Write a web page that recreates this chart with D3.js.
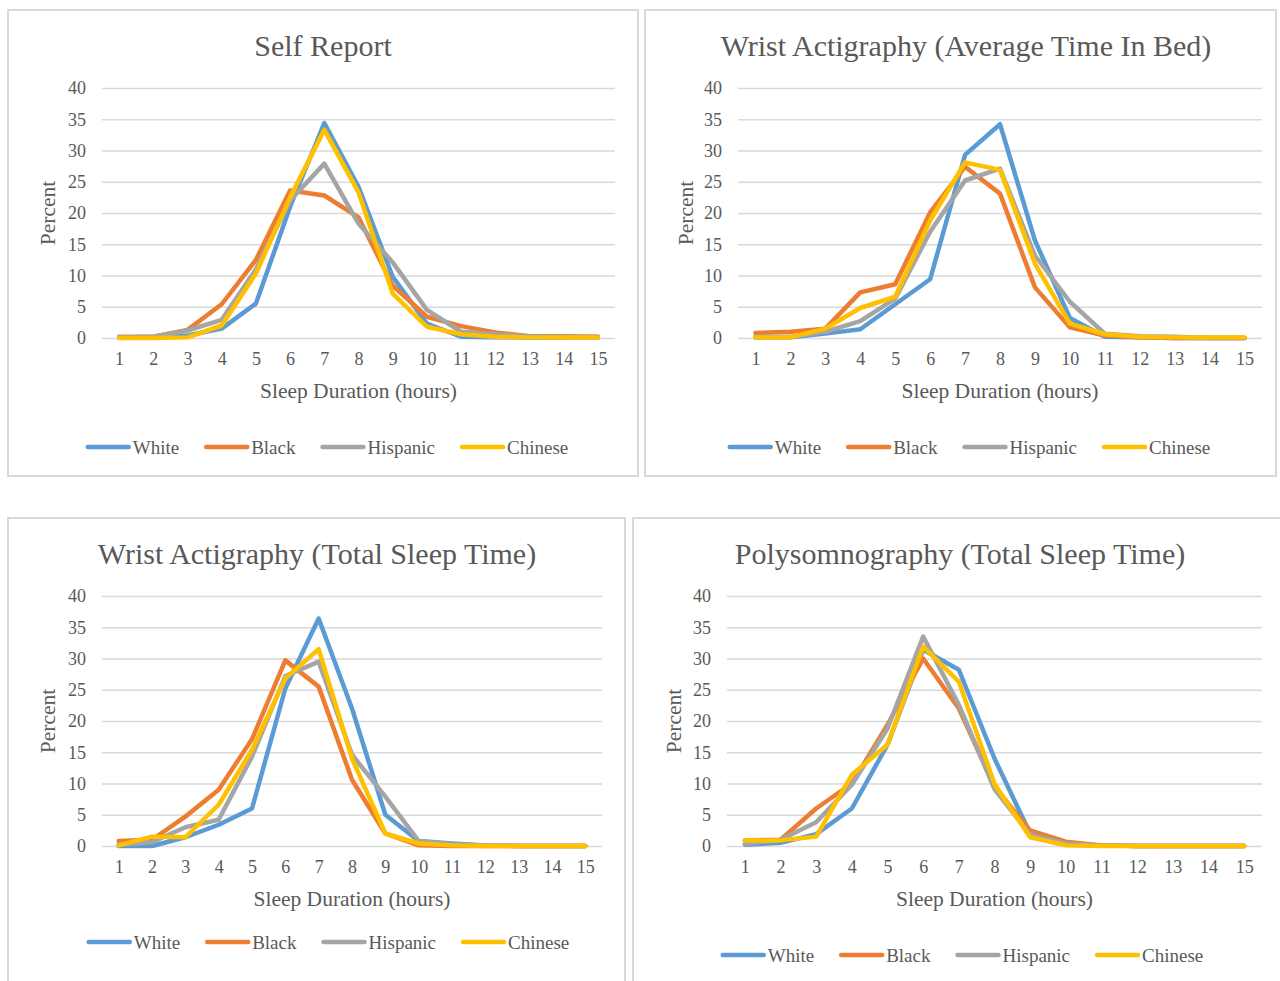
<!DOCTYPE html>
<html>
<head>
<meta charset="utf-8">
<script src="https://cdn.jsdelivr.net/npm/d3@7"></script>
<style>
  html, body { margin: 0; padding: 0; background: #ffffff; }
  svg { display: block; }
  text { font-family: "Liberation Serif", "Times New Roman", serif; fill: #595959; }
</style>
</head>
<body>
<svg id="chart" width="1280" height="981"></svg>
<script>
// ---------- data ----------
const hours = ["1","2","3","4","5","6","7","8","9","10","11","12","13","14","15"];
const yTicks = [0, 5, 10, 15, 20, 25, 30, 35, 40];
const seriesNames = ["White", "Black", "Hispanic", "Chinese"];
const seriesColors = ["#5B9BD5", "#ED7D31", "#A5A5A5", "#FFC000"];
const chartTitles = [
  "Self Report",
  "Wrist Actigraphy (Average Time In Bed)",
  "Wrist Actigraphy (Total Sleep Time)",
  "Polysomnography (Total Sleep Time)"
];
const xAxisTitle = "Sleep Duration (hours)";
const yAxisTitle = "Percent";

// Self Report
const selfWhite    = [0.1, 0.1, 0.4, 1.5, 5.5, 21.0, 34.4, 24.2, 9.8, 2.3, 0.2, 0.1, 0.1, 0.1, 0.1];
const selfBlack    = [0.2, 0.2, 1.3, 5.4, 12.5, 23.6, 22.8, 19.3, 8.4, 3.4, 1.9, 0.9, 0.3, 0.3, 0.2];
const selfHispanic = [0.1, 0.2, 1.2, 2.9, 11.0, 22.0, 27.9, 18.3, 12.1, 4.5, 1.0, 0.6, 0.3, 0.2, 0.2];
const selfChinese  = [0.0, 0.0, 0.1, 2.0, 10.3, 22.5, 33.3, 23.3, 7.1, 1.8, 0.6, 0.2, 0.1, 0.1, 0.1];

// Wrist Actigraphy (Average Time In Bed)
const tibWhite    = [0.1, 0.1, 0.7, 1.4, 5.4, 9.4, 29.3, 34.2, 15.6, 3.2, 0.2, 0.1, 0.0, 0.0, 0.0];
const tibBlack    = [0.8, 1.0, 1.5, 7.3, 8.6, 20.1, 27.4, 23.1, 8.1, 1.7, 0.4, 0.1, 0.0, 0.0, 0.0];
const tibHispanic = [0.2, 0.2, 1.0, 2.7, 6.3, 17.0, 25.2, 27.1, 13.2, 5.8, 0.7, 0.3, 0.2, 0.0, 0.0];
const tibChinese  = [0.1, 0.1, 1.5, 4.8, 6.6, 18.8, 28.1, 26.9, 11.9, 2.3, 0.6, 0.2, 0.1, 0.1, 0.1];

// Wrist Actigraphy (Total Sleep Time)
const wtsWhite    = [0.0, 0.0, 1.4, 3.4, 6.0, 25.2, 36.4, 22.0, 5.0, 0.8, 0.4, 0.1, 0.0, 0.0, 0.0];
const wtsBlack    = [0.8, 1.0, 4.7, 9.0, 17.1, 29.7, 25.5, 10.6, 2.0, 0.1, 0.0, 0.0, 0.0, 0.0, 0.0];
const wtsHispanic = [0.2, 0.6, 3.0, 4.2, 14.3, 27.2, 29.5, 14.6, 7.9, 0.8, 0.3, 0.1, 0.0, 0.0, 0.0];
const wtsChinese  = [0.1, 1.5, 1.4, 6.6, 15.4, 26.8, 31.5, 14.0, 2.0, 0.4, 0.1, 0.0, 0.0, 0.0, 0.0];

// Polysomnography (Total Sleep Time)
const psgWhite    = [0.2, 0.5, 1.9, 6.0, 16.2, 31.4, 28.2, 14.0, 2.0, 0.4, 0.1, 0.0, 0.0, 0.0, 0.0];
const psgBlack    = [0.9, 1.0, 6.0, 10.0, 19.4, 30.0, 22.0, 9.5, 2.5, 0.7, 0.1, 0.0, 0.0, 0.0, 0.0];
const psgHispanic = [0.3, 1.0, 3.8, 9.8, 18.8, 33.5, 22.6, 9.1, 1.8, 0.4, 0.1, 0.0, 0.0, 0.0, 0.0];
const psgChinese  = [0.9, 0.9, 1.5, 11.4, 16.2, 31.9, 26.3, 9.9, 1.4, 0.1, 0.0, 0.0, 0.0, 0.0, 0.0];

const panelSeries = [
  [selfWhite, selfBlack, selfHispanic, selfChinese],
  [tibWhite, tibBlack, tibHispanic, tibChinese],
  [wtsWhite, wtsBlack, wtsHispanic, wtsChinese],
  [psgWhite, psgBlack, psgHispanic, psgChinese]
];

// ---------- layout ----------
const FONT = '"Liberation Serif", "Times New Roman", serif';
const layouts = [
  { box: [8, 10, 630, 466],  plot: [102, 615, 88, 338],  titleX: 323, titleY: 56,  percentX: 48,  xTitleY: 398, legendX: 327, legendY: 447 },
  { box: [645, 10, 631, 466], plot: [738, 1262, 88, 338], titleX: 966, titleY: 56,  percentX: 686, xTitleY: 398, legendX: 969, legendY: 447 },
  { box: [8, 518, 617, 480], plot: [102, 602, 596, 846], titleX: 317, titleY: 564, percentX: 48,  xTitleY: 906, legendX: 328, legendY: 942 },
  { box: [633, 518, 660, 480], plot: [727, 1262, 596, 846], titleX: 960, titleY: 564, percentX: 674, xTitleY: 906, legendX: 962, legendY: 955 }
];

const svg = d3.select("#chart");

layouts.forEach((L, pi) => {
  const g = svg.append("g");
  // panel frame
  g.append("rect")
    .attr("x", L.box[0]).attr("y", L.box[1])
    .attr("width", L.box[2]).attr("height", L.box[3])
    .attr("fill", "#ffffff").attr("stroke", "#d9d9d9").attr("stroke-width", 2);

  const [x0, x1, y0, y1] = L.plot;
  const x = d3.scalePoint().domain(hours).range([x0, x1]).padding(0.5);
  const y = d3.scaleLinear().domain([0, 40]).range([y1, y0]);

  // gridlines + y labels
  const yAxis = g.append("g")
    .attr("transform", `translate(${x0},0)`)
    .call(d3.axisLeft(y).tickValues(yTicks).tickSize(-(x1 - x0)).tickPadding(16));
  yAxis.attr("font-family", FONT).attr("font-size", 18);
  yAxis.select(".domain").remove();
  yAxis.selectAll(".tick line").attr("stroke", "#d9d9d9").attr("stroke-width", 1.5);
  yAxis.selectAll(".tick text")
    .attr("fill", "#595959").style("font-size", "18px")
    .style("font-family", FONT);

  // x labels
  const xAxis = g.append("g")
    .attr("transform", `translate(0,${y1})`)
    .call(d3.axisBottom(x).tickSize(0).tickPadding(14));
  xAxis.attr("font-family", FONT).attr("font-size", 18);
  xAxis.select(".domain").remove();
  xAxis.selectAll(".tick text")
    .attr("fill", "#595959").style("font-size", "18px")
    .style("font-family", FONT);

  // lines
  const line = d3.line().x((d, i) => x(hours[i])).y(d => y(d));
  panelSeries[pi].forEach((vals, si) => {
    g.append("path")
      .datum(vals)
      .attr("d", line)
      .attr("fill", "none")
      .attr("stroke", seriesColors[si])
      .attr("stroke-width", 4.5)
      .attr("stroke-linejoin", "round")
      .attr("stroke-linecap", "round");
  });

  // title
  g.append("text")
    .attr("x", L.titleX).attr("y", L.titleY)
    .attr("text-anchor", "middle")
    .style("font-size", "30px")
    .text(chartTitles[pi]);

  // axis titles
  g.append("text")
    .attr("x", (x0 + x1) / 2).attr("y", L.xTitleY)
    .attr("text-anchor", "middle")
    .style("font-size", "21.5px")
    .text(xAxisTitle);
  g.append("text")
    .attr("transform", `translate(${L.percentX + 7},${(y0 + y1) / 2}) rotate(-90)`)
    .attr("text-anchor", "middle")
    .style("font-size", "21.5px")
    .text(yAxisTitle);

  // legend
  const lg = g.append("g");
  let cx = 0;
  seriesNames.forEach((name, si) => {
    const it = lg.append("g").attr("transform", `translate(${cx},0)`);
    it.append("line")
      .attr("x1", 2).attr("x2", 43).attr("y1", 0).attr("y2", 0)
      .attr("stroke", seriesColors[si]).attr("stroke-width", 4.5)
      .attr("stroke-linecap", "round");
    const t = it.append("text")
      .attr("x", 47).attr("y", 6.5)
      .style("font-size", "19px")
      .text(name);
    const w = t.node().getComputedTextLength();
    cx += 47 + w + 25;
  });
  const totalW = cx - 25;
  lg.attr("transform", `translate(${L.legendX - totalW / 2},${L.legendY})`);
});
</script>
</body>
</html>
